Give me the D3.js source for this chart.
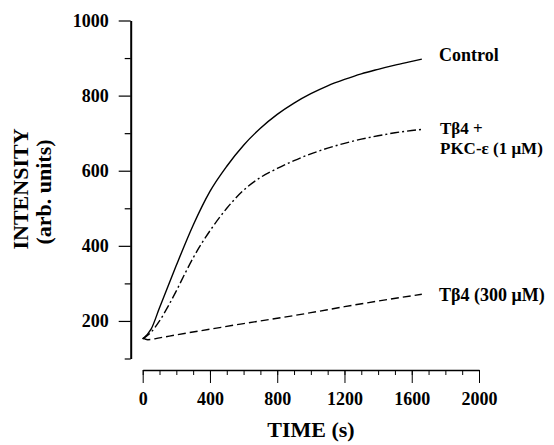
<!DOCTYPE html>
<html>
<head>
<meta charset="utf-8">
<script src="https://cdn.jsdelivr.net/npm/d3@7"></script>
<style>
  body { margin: 0; background: #fff; }
  svg { display: block; }
  text { font-family: "Liberation Serif", "Times New Roman", serif; font-weight: bold; fill: #000; }
</style>
</head>
<body>
<svg width="554" height="445"></svg>
<script>
// time (s) and intensity readings for each trace
var timeControl = [0, 50, 100, 150, 200, 300, 400, 500, 600, 700, 800, 900, 1000, 1100, 1200, 1300, 1400, 1500, 1600, 1660];
var control = [152, 178, 235, 292, 348, 455, 545, 612, 668, 713, 750, 780, 805, 826, 843, 858, 870, 881, 891, 897];

var timePkc = [0, 50, 100, 150, 200, 250, 300, 400, 500, 600, 700, 800, 900, 1000, 1100, 1200, 1300, 1400, 1500, 1600, 1660];
var pkc = [152, 170, 200, 238, 280, 325, 368, 440, 500, 548, 582, 606, 627, 645, 660, 673, 684, 693, 701, 707, 710];

var timeTb4 = [0, 30, 100, 200, 400, 600, 800, 1000, 1200, 1400, 1600, 1660];
var tb4 = [155, 150, 155, 163, 178, 193, 207, 222, 238, 253, 267, 271];

var xTicks = [0, 400, 800, 1200, 1600, 2000];
var xMinor = d3.range(0, 2001, 100);
var yTicks = [200, 400, 600, 800, 1000];
var yMinor = [100, 300, 500, 700, 900];

var svg = d3.select("svg");

var x = d3.scaleLinear().domain([0, 2000]).range([142.7, 479]);
var y = d3.scaleLinear().domain([100, 1000]).range([358.5, 20.5]);
var xAxisY = 370;
var fmt = d3.format("d");

// y axis
var gy = svg.append("g").attr("transform", "translate(130.7,0)");
gy.call(d3.axisLeft(y).tickValues(yMinor).tickSize(6).tickSizeOuter(0).tickFormat(""));
gy.append("g").call(d3.axisLeft(y).tickValues(yTicks).tickSize(12).tickSizeOuter(0).tickPadding(10).tickFormat(fmt))
  .call(function(g) { g.select(".domain").remove(); });
gy.selectAll("path.domain").attr("stroke-width", 2);
gy.selectAll("line").attr("stroke-width", 1.2);
gy.selectAll("text").attr("font-size", 18).attr("font-family", null);

// x axis
var gx = svg.append("g").attr("transform", "translate(0," + xAxisY + ")");
gx.call(d3.axisBottom(x).tickValues(xMinor).tickSize(5).tickSizeOuter(0).tickFormat(""));
gx.append("g").call(d3.axisBottom(x).tickValues(xTicks).tickSize(13).tickSizeOuter(0).tickPadding(9).tickFormat(fmt))
  .call(function(g) { g.select(".domain").remove(); });
gx.selectAll("path.domain").attr("stroke-width", 1.6);
gx.selectAll("line").attr("stroke-width", 1);
gx.selectAll("text").attr("font-size", 18).attr("font-family", null);

// traces
var line = d3.line()
  .x(function(d) { return x(d[0]); })
  .y(function(d) { return y(d[1]); })
  .curve(d3.curveMonotoneX);

var series = [
  { t: timeControl, v: control, dash: null },
  { t: timePkc, v: pkc, dash: "9,3,2,3" },
  { t: timeTb4, v: tb4, dash: "8,4" }
];

svg.selectAll(".trace")
  .data(series)
  .enter().append("path")
    .attr("class", "trace")
    .attr("fill", "none")
    .attr("stroke", "#000")
    .attr("stroke-width", 1.4)
    .attr("stroke-dasharray", function(d) { return d.dash; })
    .attr("d", function(d) { return line(d.t.map(function(t, i) { return [t, d.v[i]]; })); });

// labels at the right
svg.append("text").attr("x", 439).attr("y", 61).attr("font-size", 18).text("Control");
svg.append("text").attr("x", 440).attr("y", 134).attr("font-size", 17).text("Tβ4 +");
svg.append("text").attr("x", 440).attr("y", 154).attr("font-size", 17).text("PKC-ε (1 μM)");
svg.append("text").attr("x", 439).attr("y", 301).attr("font-size", 18).text("Tβ4 (300 μM)");

// axis titles
svg.append("text")
  .attr("x", 311).attr("y", 437)
  .attr("text-anchor", "middle")
  .attr("font-size", 22)
  .text("TIME (s)");

svg.append("text")
  .attr("transform", "translate(28,189) rotate(-90)")
  .attr("text-anchor", "middle")
  .attr("font-size", 22)
  .text("INTENSITY");

svg.append("text")
  .attr("transform", "translate(51,192) rotate(-90)")
  .attr("text-anchor", "middle")
  .attr("font-size", 22)
  .text("(arb. units)");
</script>
</body>
</html>
